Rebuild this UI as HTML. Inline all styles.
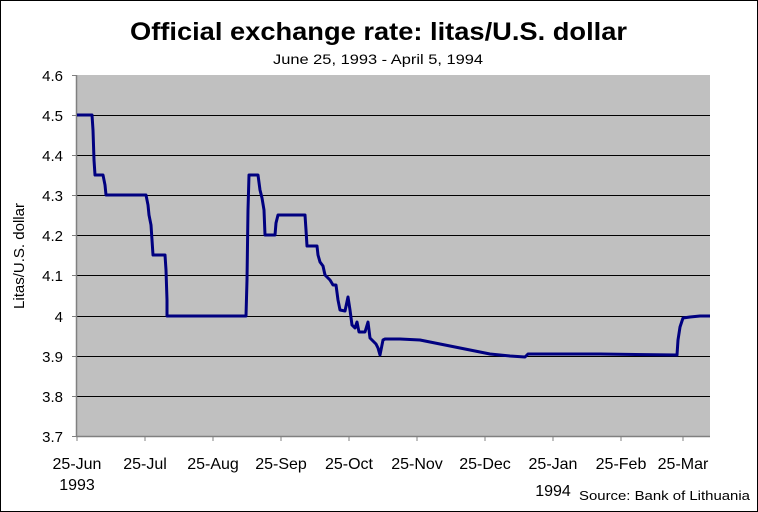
<!DOCTYPE html>
<html><head><style>
body{margin:0;background:#fff}
svg{display:block;font-family:"Liberation Sans",Arial,sans-serif}
</style></head><body>
<svg width="758" height="512" viewBox="0 0 758 512">
<rect x="0.5" y="0.5" width="757" height="511" fill="#fff" stroke="#000"/>
<text x="130" y="40" font-size="25" font-weight="bold" textLength="497" lengthAdjust="spacingAndGlyphs">Official exchange rate: litas/U.S. dollar</text>
<text x="273" y="64" font-size="14" textLength="210" lengthAdjust="spacingAndGlyphs">June 25, 1993 - April 5, 1994</text>
<rect x="77" y="75" width="633" height="361" fill="#c0c0c0"/>
<g stroke="#000" stroke-width="1">
<line x1="77" y1="115.5" x2="710" y2="115.5"/>
<line x1="77" y1="155.5" x2="710" y2="155.5"/>
<line x1="77" y1="195.5" x2="710" y2="195.5"/>
<line x1="77" y1="235.5" x2="710" y2="235.5"/>
<line x1="77" y1="275.5" x2="710" y2="275.5"/>
<line x1="77" y1="316.5" x2="710" y2="316.5"/>
<line x1="77" y1="356.5" x2="710" y2="356.5"/>
<line x1="77" y1="396.5" x2="710" y2="396.5"/>
</g>
<g stroke="#808080" stroke-width="1.5">
<line x1="76.5" y1="75" x2="76.5" y2="437"/>
<line x1="76" y1="436.5" x2="710" y2="436.5"/>
</g>
<g stroke="#808080">
<line x1="72" y1="75.5" x2="77" y2="75.5"/><line x1="72" y1="115.5" x2="77" y2="115.5"/><line x1="72" y1="155.5" x2="77" y2="155.5"/><line x1="72" y1="195.5" x2="77" y2="195.5"/><line x1="72" y1="235.5" x2="77" y2="235.5"/><line x1="72" y1="275.5" x2="77" y2="275.5"/><line x1="72" y1="316.5" x2="77" y2="316.5"/><line x1="72" y1="356.5" x2="77" y2="356.5"/><line x1="72" y1="396.5" x2="77" y2="396.5"/><line x1="72" y1="436.5" x2="77" y2="436.5"/>
<line x1="77" y1="436" x2="77" y2="441"/><line x1="145" y1="436" x2="145" y2="441"/><line x1="213" y1="436" x2="213" y2="441"/><line x1="281" y1="436" x2="281" y2="441"/><line x1="349" y1="436" x2="349" y2="441"/><line x1="417" y1="436" x2="417" y2="441"/><line x1="485" y1="436" x2="485" y2="441"/><line x1="553" y1="436" x2="553" y2="441"/><line x1="621" y1="436" x2="621" y2="441"/><line x1="683" y1="436" x2="683" y2="441"/>
</g>
<g font-size="15" text-anchor="end">
<text x="63" y="81">4.6</text><text x="63" y="121">4.5</text><text x="63" y="161">4.4</text><text x="63" y="201">4.3</text><text x="63" y="241">4.2</text><text x="63" y="281">4.1</text><text x="63" y="322">4</text><text x="63" y="362">3.9</text><text x="63" y="402">3.8</text><text x="63" y="442">3.7</text>
</g>
<g font-size="16" text-anchor="middle">
<text x="77" y="469">25-Jun</text><text x="77" y="490">1993</text>
<text x="145" y="469">25-Jul</text><text x="213" y="469">25-Aug</text><text x="281" y="469">25-Sep</text><text x="349" y="469">25-Oct</text><text x="417" y="469">25-Nov</text><text x="485" y="469">25-Dec</text><text x="553" y="469">25-Jan</text><text x="553" y="496">1994</text><text x="621" y="469">25-Feb</text><text x="683" y="469">25-Mar</text>
</g>
<text x="579" y="500" font-size="13" textLength="171" lengthAdjust="spacingAndGlyphs">Source: Bank of Lithuania</text>
<text transform="translate(24,256) rotate(-90)" font-size="15" text-anchor="middle">Litas/U.S. dollar</text>
<polyline fill="none" stroke="#000080" stroke-width="3" stroke-linejoin="round" points="77,115 92,115 93,130 94,160 95,175 103,175 105,185 106,195 146,195 148,205 149,215 151,225 152,240 153,255 165,255 166,270 167,300 167,316 246,316 247,280 248,210 249,175 258,175 260,190 262,198 264,210 265,235 275,235 276,223 278,215 305,215 306,230 307,246 317,246 318,255 320,262 323,266 325,275 330,280 333,285 336,285 338,300 340,310 345,311 348,297 350,310 352,325 355,328 357,322 359,332 365,332 368,322 370,338 376,344 378,348 380,355 383,340 385,339 400,339 420,340 430,342 450,346 470,350 490,354 510,356 525,357 528,354 545,354 600,354 677,355 678,340 680,327 683,318 690,317 700,316 710,316"/>
</svg>
</body></html>
